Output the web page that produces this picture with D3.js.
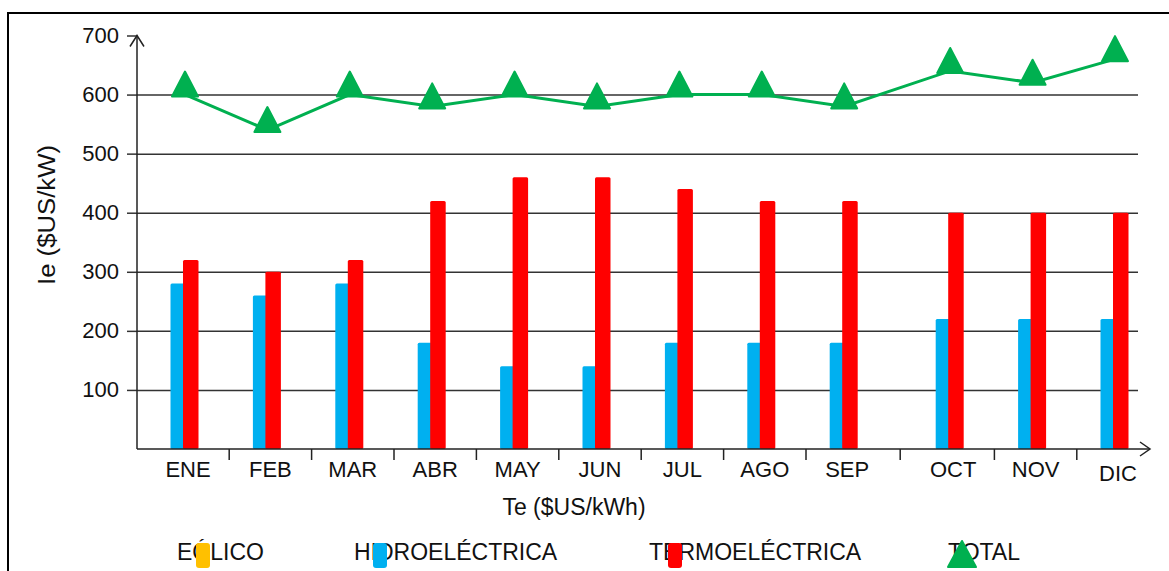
<!DOCTYPE html>
<html>
<head>
<meta charset="utf-8">
<script src="https://cdn.jsdelivr.net/npm/d3@7"></script>
<style>
  body { margin: 0; background: #fff; }
  svg { display: block; font-family: "Liberation Sans", Arial, sans-serif; }
</style>
</head>
<body>
<svg id="chart" width="1169" height="571"></svg>
<script>
// Data
var months = ["ENE", "FEB", "MAR", "ABR", "MAY", "JUN", "JUL", "AGO", "SEP", "OCT", "NOV", "DIC"];
var eolico = [0, 0, 0, 0, 0, 0, 0, 0, 0, 0, 0, 0];
var hidro = [280, 260, 280, 180, 140, 140, 180, 180, 180, 220, 220, 220];
var termo = [320, 300, 320, 420, 460, 460, 440, 420, 420, 400, 400, 400];
var total = [600, 540, 600, 580, 600, 580, 600, 600, 580, 640, 620, 660];
var yTicks = [100, 200, 300, 400, 500, 600, 700];
var seriesNames = ["EÓLICO", "HIDROELÉCTRICA", "TERMOELÉCTRICA", "TOTAL"];
var seriesColors = ["#FFC000", "#00B0F0", "#FF0000", "#00B050"];

var svg = d3.select("#chart");

// Outer frame
svg.append("rect")
    .attr("x", 8).attr("y", 13)
    .attr("width", 1300).attr("height", 700)
    .attr("fill", "none")
    .attr("stroke", "#000")
    .attr("stroke-width", 2);

// Plot area
var x0 = 137, yBase = 449, gridRight = 1138;

var y = d3.scaleLinear()
    .domain([0, 700])
    .range([yBase, 35.5]);

// month index -> group center; the original leaves a little extra room before OCT
var step = 82.4, gap = 23.6, first = 183;
var x = d3.scaleLinear()
    .domain([0, 8, 9, 11])
    .range([first, first + 8 * step, first + 9 * step + gap, first + 11 * step + gap]);

// Gridlines
svg.append("g")
    .attr("transform", "translate(" + x0 + ",0)")
    .call(d3.axisLeft(y).tickValues(yTicks.filter(function(d) { return d < 700; }))
        .tickSize(-(gridRight - x0)).tickFormat(""))
    .call(function(g) {
        g.select(".domain").remove();
        g.selectAll("line").attr("stroke", "#333").attr("stroke-width", 1.5);
    });

// Y axis ticks and labels
svg.append("g")
    .attr("transform", "translate(" + x0 + ",0)")
    .call(d3.axisLeft(y).tickValues(yTicks).tickSize(10).tickPadding(8))
    .call(function(g) {
        g.select(".domain").remove();
        g.selectAll("line").attr("stroke", "#333").attr("stroke-width", 1.5);
        g.selectAll("text").attr("font-size", 22).attr("fill", "#111")
            .attr("font-family", "Liberation Sans, Arial, sans-serif");
    });

// Bars
var barGroups = svg.append("g");
barGroups.selectAll(".hidro")
    .data(hidro)
    .enter()
    .append("rect")
    .attr("class", "hidro")
    .attr("x", function(d, i) { return x(i) - 12.5; })
    .attr("y", function(d) { return y(d); })
    .attr("width", 16)
    .attr("height", function(d) { return yBase - y(d); })
    .attr("rx", 1.5)
    .attr("fill", seriesColors[1]);

barGroups.selectAll(".termo")
    .data(termo)
    .enter()
    .append("rect")
    .attr("class", "termo")
    .attr("x", function(d, i) { return x(i); })
    .attr("y", function(d) { return y(d); })
    .attr("width", 15.5)
    .attr("height", function(d) { return yBase - y(d); })
    .attr("rx", 1.5)
    .attr("fill", seriesColors[2]);

// Axes lines with open arrow heads
var axes = svg.append("g")
    .attr("fill", "none")
    .attr("stroke", "#222")
    .attr("stroke-width", 1.5);
axes.append("line").attr("x1", x0).attr("y1", yBase).attr("x2", x0).attr("y2", y(700));
axes.append("path").attr("d", "M" + (x0 - 7) + "," + (y(700) + 11) + "L" + x0 + "," + y(700) + "L" + (x0 + 7) + "," + (y(700) + 11));
axes.append("line").attr("x1", x0).attr("y1", yBase).attr("x2", 1150).attr("y2", yBase);
axes.append("path").attr("d", "M1140," + (yBase - 7) + "L1150," + yBase + "L1140," + (yBase + 7));

// X ticks between the months
axes.selectAll(".xtick")
    .data(months.slice(1))
    .enter()
    .append("line")
    .attr("x1", function(d, i) { return (x(i) + x(i + 1)) / 2 + 5; })
    .attr("x2", function(d, i) { return (x(i) + x(i + 1)) / 2 + 5; })
    .attr("y1", yBase)
    .attr("y2", yBase + 11);

// Month labels
svg.selectAll(".month")
    .data(months)
    .enter()
    .append("text")
    .attr("class", "month")
    .attr("x", function(d, i) { return x(i) + 5; })
    .attr("y", function(d, i) { return d === "DIC" ? 481 : 477; })
    .attr("text-anchor", "middle")
    .attr("font-size", 22)
    .attr("fill", "#111")
    .text(function(d) { return d; });

// Total line
var line = d3.line()
    .x(function(d, i) { return x(i) + 2; })
    .y(function(d) { return y(d); });

svg.append("path")
    .datum(total)
    .attr("d", line)
    .attr("fill", "none")
    .attr("stroke", seriesColors[3])
    .attr("stroke-width", 3);

function triangle(cx, cy) {
    return "M" + cx + "," + (cy - 23) + "L" + (cx + 13) + "," + (cy + 2) + "L" + (cx - 13) + "," + (cy + 2) + "Z";
}

svg.selectAll(".tri")
    .data(total)
    .enter()
    .append("path")
    .attr("class", "tri")
    .attr("d", function(d, i) { return triangle(x(i) + 2, y(d)); })
    .attr("fill", seriesColors[3])
    .attr("stroke", seriesColors[3])
    .attr("stroke-width", 2)
    .attr("stroke-linejoin", "round");

// Axis titles
svg.append("text")
    .attr("transform", "translate(55,215) rotate(-90)")
    .attr("text-anchor", "middle")
    .attr("font-size", 23.5)
    .attr("textLength", 140)
    .attr("lengthAdjust", "spacingAndGlyphs")
    .attr("fill", "#111")
    .text("Ie ($US/kW)");

svg.append("text")
    .attr("x", 574)
    .attr("y", 515)
    .attr("text-anchor", "middle")
    .attr("font-size", 23)
    .attr("fill", "#111")
    .text("Te ($US/kWh)");

// Legend
var legendTextX = [177, 354, 649, 948];
var legend = svg.selectAll(".legend")
    .data(seriesNames)
    .enter()
    .append("g")
    .attr("class", "legend")
    .attr("transform", function(d, i) { return "translate(" + legendTextX[i] + ",0)"; });

legend.append("text")
    .attr("x", 0)
    .attr("y", 560)
    .attr("font-size", 23)
    .attr("fill", "#111")
    .text(function(d) { return d; });

legend.filter(function(d, i) { return i < 3; })
    .append("rect")
    .attr("x", 19)
    .attr("y", 543)
    .attr("width", 14)
    .attr("height", 25)
    .attr("rx", 3)
    .attr("fill", function(d, i) { return seriesColors[i]; });

legend.filter(function(d, i) { return i === 3; })
    .append("path")
    .attr("d", "M14,541L28,567L0,567Z")
    .attr("fill", seriesColors[3])
    .attr("stroke", seriesColors[3])
    .attr("stroke-width", 2)
    .attr("stroke-linejoin", "round");
</script>
</body>
</html>
